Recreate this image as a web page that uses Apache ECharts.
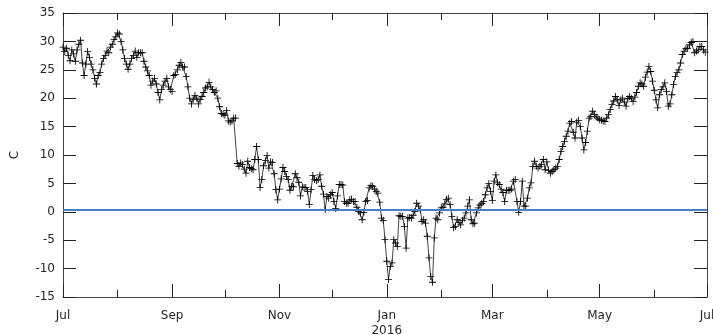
<!DOCTYPE html>
<html>
<head>
<meta charset="utf-8">
<script src="https://cdn.jsdelivr.net/npm/echarts@6/dist/echarts.min.js"></script>
<style>
  html, body { margin: 0; padding: 0; background: #fff; }
  #chart { width: 713px; height: 335px; }
</style>
</head>
<body>
<div id="chart"></div>
<script>
// daily temperature readings, one array per month (C)
const jul2015 = [29.0, 28.2, 28.8, 27.5, 26.6, 28.5, 27.8, 26.5, 28.5, 29.5, 30.2, 26.2, 24.0, 26.0, 28.2, 27.2, 26.0, 25.0, 23.5, 22.5, 24.0, 24.5, 26.0, 27.0, 27.5, 28.3, 28.0, 29.0, 29.5, 30.3, 30.8]
const aug2015 = [31.5, 31.3, 30.0, 28.5, 27.0, 26.0, 25.1, 26.0, 27.0, 27.5, 28.3, 27.2, 28.0, 28.0, 28.0, 26.5, 25.5, 24.8, 24.0, 22.3, 23.0, 23.5, 22.5, 21.0, 19.7, 21.5, 22.3, 23.0, 23.5, 22.0, 21.5]
const sep2015 = [21.2, 24.0, 24.2, 25.0, 25.8, 26.3, 25.5, 25.5, 23.8, 22.0, 20.0, 19.0, 19.8, 20.5, 20.0, 19.0, 19.8, 20.3, 21.0, 21.8, 22.0, 22.8, 22.0, 21.5, 21.0, 21.3, 20.0, 18.5, 17.3, 17.2]
const oct2015 = [17.0, 17.8, 16.0, 15.8, 16.0, 16.5, 16.5, 8.5, 8.0, 8.6, 8.3, 7.5, 6.8, 8.9, 7.8, 7.6, 7.4, 9.2, 11.5, 9.2, 4.3, 5.7, 8.1, 9.0, 9.9, 7.7, 8.8, 8.7, 6.7, 3.9, 2.1]
const nov2015 = [4.0, 5.8, 7.8, 7.1, 6.2, 5.7, 3.8, 4.5, 4.4, 6.7, 6.0, 5.2, 2.8, 4.4, 4.3, 4.3, 3.6, 1.3, 3.9, 6.4, 5.7, 5.5, 5.7, 6.5, 4.5, 3.1, 0.4, 2.7, 2.4, 3.0]
const dec2015 = [3.4, 1.8, 0.6, 2.8, 4.8, 4.8, 4.7, 1.8, 1.5, 1.5, 2.1, 2.2, 1.8, 1.8, 0.8, 0.1, -0.2, -1.4, -0.1, 1.8, 2.0, 4.2, 4.6, 4.5, 4.0, 3.6, 3.3, 1.7, -1.1, -1.5, -4.9]
const jan2016 = [-8.7, -11.9, -9.6, -9.0, -4.9, -5.5, -6.1, -0.7, -0.8, -0.8, -2.6, -6.4, -1.1, -1.0, -1.1, -0.6, 0.1, 1.5, 1.0, 0.4, -1.7, -1.4, -2.0, -4.3, -8.1, -11.4, -12.4, -4.6, -1.1, -1.4, -0.2]
const feb2016 = [0.7, 0.8, 1.4, 2.2, 2.4, 1.3, -0.8, -2.8, -2.6, -1.4, -1.9, -2.3, -1.5, -1.1, -0.2, 1.0, 2.1, -1.4, -2.1, -2.0, -0.2, 0.7, 1.2, 1.5, 1.8, 3.0, 4.2, 5.0, 3.6]
const mar2016 = [2.0, 5.4, 6.5, 5.1, 4.8, 4.0, 3.4, 1.8, 3.8, 3.8, 3.8, 4.0, 5.4, 5.7, 1.8, -0.1, 1.8, 5.4, 1.0, 1.0, 2.4, 4.2, 5.1, 8.0, 8.9, 8.0, 7.7, 8.0, 8.3, 9.2, 7.4]
const apr2016 = [8.8, 7.3, 6.8, 7.1, 7.4, 7.7, 8.0, 9.2, 10.6, 11.5, 12.4, 13.3, 14.2, 15.6, 15.9, 14.0, 13.0, 15.8, 16.1, 15.0, 13.0, 10.9, 12.2, 14.2, 16.5, 16.8, 17.7, 17.1, 16.7, 16.5]
const may2016 = [16.2, 16.1, 16.0, 15.9, 16.5, 17.1, 18.0, 18.9, 19.5, 20.3, 19.7, 18.7, 19.7, 20.0, 19.3, 18.6, 19.9, 20.3, 20.0, 19.4, 20.2, 21.0, 22.1, 22.7, 22.5, 22.1, 23.7, 24.6, 25.6, 24.7, 23.0]
const jun2016 = [21.4, 19.7, 18.3, 20.6, 21.5, 22.0, 22.7, 21.2, 18.6, 19.0, 20.6, 22.4, 23.8, 24.5, 25.0, 26.2, 27.7, 28.3, 28.7, 28.8, 29.4, 29.8, 30.0, 28.0, 28.3, 28.5, 29.1, 29.1, 28.5, 28.1]

// reference level (blue line)
const refLevel = 0.4

// x tick labels
const majorLabels = {
  '2015-07-01': 'Jul', '2015-09-01': 'Sep', '2015-11-01': 'Nov',
  '2016-01-01': 'Jan\n2016', '2016-03-01': 'Mar', '2016-05-01': 'May', '2016-07-01': 'Jul'
}
const minorDates = ['2015-08-01', '2015-10-01', '2015-12-01', '2016-02-01', '2016-04-01', '2016-06-01']

const temps = [].concat(jul2015, aug2015, sep2015, oct2015, nov2015, dec2015,
  jan2016, feb2016, mar2016, apr2016, may2016, jun2016)

// one category per day, Jul 1 2015 .. Jul 1 2016
const days = []
const start = Date.UTC(2015, 6, 1)
for (let i = 0; i <= 366; i++) {
  days.push(new Date(start + i * 86400000).toISOString().slice(0, 10))
}

const isMajor = (i, v) => majorLabels[v] !== undefined
const isMinor = (i, v) => minorDates.indexOf(v) >= 0

const font = { fontFamily: 'DejaVu Sans', fontSize: 12, color: '#262626' }
const frame = { lineStyle: { color: '#444', width: 1 } }
const plus = 'path://M0,4.4H10V5.6H0ZM4.4,0H5.6V10H4.4Z'

const chart = echarts.init(document.getElementById('chart'))

const gridBox = { left: 63, right: 6, top: 13, bottom: 38, outerBoundsMode: 'none', containLabel: false }

const catAxis = (grid, pos, len, fn, labels) => ({
  type: 'category',
  gridIndex: grid,
  position: pos,
  data: days,
  boundaryGap: false,
  axisLine: grid === 0 ? { onZero: false, ...frame } : { show: false, onZero: false },
  axisTick: { inside: true, length: len, interval: fn, lineStyle: { color: '#222' } },
  axisLabel: labels ? {
    interval: isMajor,
    margin: 11,
    lineHeight: 15,
    formatter: v => majorLabels[v],
    ...font
  } : { show: false },
  splitLine: { show: false }
})

const valAxis = (grid, pos, showIt, withLabels) => ({
  type: 'value',
  gridIndex: grid,
  position: pos,
  show: showIt,
  min: -15,
  max: 35,
  interval: 5,
  name: withLabels ? 'C' : '',
  nameLocation: 'middle',
  nameGap: 42,
  nameRotate: 90,
  nameTextStyle: font,
  axisLine: { show: true, onZero: false, ...frame },
  axisTick: { show: true, inside: true, length: 13, lineStyle: { color: '#222' } },
  axisLabel: withLabels ? { margin: 8, ...font } : { show: false },
  splitLine: { show: false }
})

chart.setOption({
  animation: false,
  backgroundColor: '#fff',
  grid: [gridBox, gridBox],
  xAxis: [
    catAxis(0, 'bottom', 13, isMajor, true),
    catAxis(0, 'top', 13, isMajor, false),
    catAxis(1, 'bottom', 7, isMinor, false),
    catAxis(1, 'top', 7, isMinor, false)
  ],
  yAxis: [
    valAxis(0, 'left', true, true),
    valAxis(0, 'right', true, false),
    valAxis(1, 'left', false, false)
  ],
  series: [
    {
      type: 'line',
      xAxisIndex: 0,
      yAxisIndex: 0,
      data: temps,
      showAllSymbol: true,
      symbol: plus,
      symbolSize: 7,
      itemStyle: { color: '#000' },
      lineStyle: { color: '#444', width: 1 },
      markLine: {
        silent: true,
        symbol: 'none',
        label: { show: false },
        lineStyle: { color: '#4a7fc4', width: 2, type: 'solid' },
        data: [{ yAxis: refLevel }]
      },
      z: 3
    }
  ]
})
</script>
</body>
</html>
